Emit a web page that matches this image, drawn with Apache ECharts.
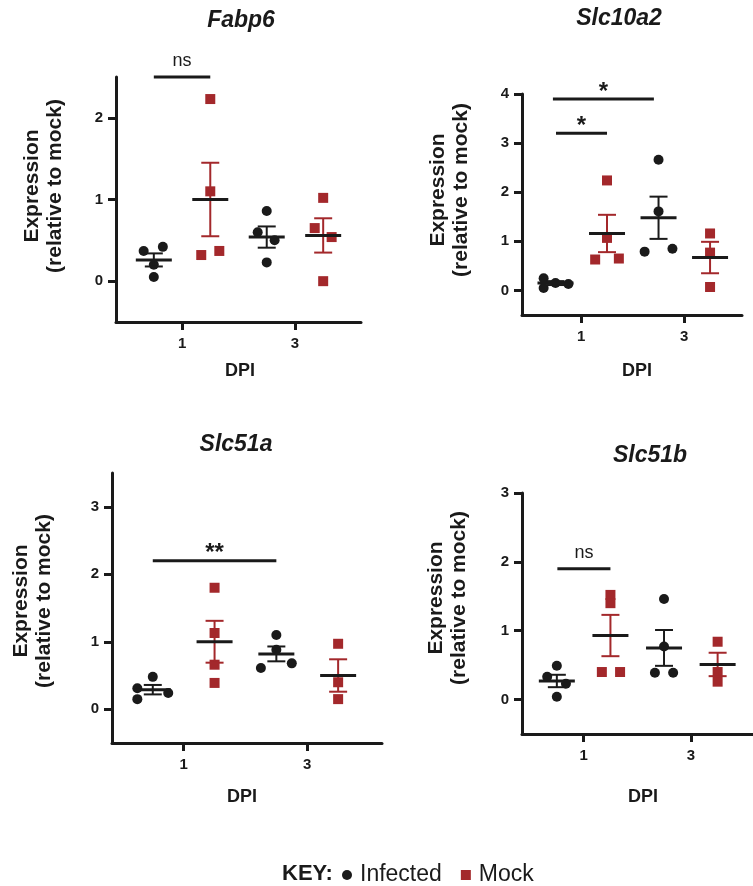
<!DOCTYPE html>
<html>
<head>
<meta charset="utf-8">
<script src="https://cdn.jsdelivr.net/npm/echarts@6/dist/echarts.min.js"></script>
<style>
html, body { margin: 0; padding: 0; background: #fff; }
#chart { width: 753px; height: 886px; }
</style>
</head>
<body>
<div id="chart"></div>
<script>
// groups on the x axis: 1 = Infected DPI1, 2 = Mock DPI1, 3 = Infected DPI3, 4 = Mock DPI3
var groupX = [1, 2, 3, 4];
var xTickValues = [1.5, 3.5];
var xTickLabels = ['1', '3'];

// Fabp6
var fabp6Infected = [[0.82, 0.37], [1.16, 0.42], [1.0, 0.2], [1.0, 0.05],
	[3.0, 0.86], [2.84, 0.6], [3.14, 0.5], [3.0, 0.23]];
var fabp6Mock = [[2.0, 2.23], [2.0, 1.1], [1.84, 0.32], [2.16, 0.37],
	[4.0, 1.02], [3.85, 0.65], [4.15, 0.54], [4.0, 0.0]];
var fabp6Mean = [0.26, 1.0, 0.54, 0.56];
var fabp6Sem = [0.08, 0.45, 0.13, 0.21];
var fabp6Sig = [[1.0, 2.0, 2.5]];
var fabp6SigText = ['ns'];
var fabp6YTicks = [0, 1, 2];

// Slc10a2
var slc10a2Infected = [[0.77, 0.25], [0.77, 0.05], [1.0, 0.15], [1.25, 0.13],
	[3.0, 2.66], [3.0, 1.61], [2.73, 0.79], [3.27, 0.85]];
var slc10a2Mock = [[2.0, 2.24], [2.0, 1.07], [1.77, 0.63], [2.23, 0.65],
	[4.0, 1.16], [4.0, 0.77], [4.0, 0.07]];
var slc10a2Mean = [0.15, 1.16, 1.48, 0.67];
var slc10a2Sem = [0.04, 0.38, 0.43, 0.32];
var slc10a2Sig = [[0.95, 2.91, 3.9], [1.01, 2.0, 3.2]];
var slc10a2SigText = ['*', '*'];
var slc10a2YTicks = [0, 1, 2, 3, 4];

// Slc51a
var slc51aInfected = [[1.0, 0.48], [0.75, 0.31], [1.25, 0.24], [0.75, 0.15],
	[3.0, 1.1], [3.0, 0.88], [2.75, 0.61], [3.25, 0.68]];
var slc51aMock = [[2.0, 1.8], [2.0, 1.13], [2.0, 0.66], [2.0, 0.39],
	[4.0, 0.97], [4.0, 0.4], [4.0, 0.15]];
var slc51aMean = [0.29, 1.0, 0.82, 0.5];
var slc51aSem = [0.07, 0.31, 0.11, 0.24];
var slc51aSig = [[1.0, 3.0, 2.2]];
var slc51aSigText = ['**'];
var slc51aYTicks = [0, 1, 2, 3];

// Slc51b
var slc51bInfected = [[1.0, 0.49], [0.82, 0.33], [1.17, 0.23], [1.0, 0.04],
	[3.0, 1.46], [3.0, 0.77], [2.83, 0.39], [3.17, 0.39]];
var slc51bMock = [[2.0, 1.52], [2.0, 1.4], [1.84, 0.4], [2.18, 0.4],
	[4.0, 0.84], [4.0, 0.4], [4.0, 0.26]];
var slc51bMean = [0.27, 0.93, 0.75, 0.51];
var slc51bSem = [0.09, 0.3, 0.26, 0.17];
var slc51bSig = [[1.01, 2.0, 1.9]];
var slc51bSigText = ['ns'];
var slc51bYTicks = [0, 1, 2, 3];

var BLACK = '#1a1a1a';
var RED = '#a3282b';
var FONT = '"Liberation Sans", Arial, sans-serif';

var panels = [
	{ title: 'Fabp6', inf: fabp6Infected, mock: fabp6Mock, mean: fabp6Mean, sem: fabp6Sem, sig: fabp6Sig, sigText: fabp6SigText, yTicks: fabp6YTicks,
		grid: { left: 116, top: 77, width: 245, height: 245 }, xMin: 0.33, xMax: 4.67, yMin: -0.5, yMax: 2.5,
		titlePos: [241, 21], yLabelPos: [44, 186], dpiPos: [240, 371] },
	{ title: 'Slc10a2', inf: slc10a2Infected, mock: slc10a2Mock, mean: slc10a2Mean, sem: slc10a2Sem, sig: slc10a2Sig, sigText: slc10a2SigText, yTicks: slc10a2YTicks,
		grid: { left: 522, top: 94, width: 220, height: 221 }, xMin: 0.35, xMax: 4.62, yMin: -0.5, yMax: 4,
		titlePos: [619, 19], yLabelPos: [450, 190], dpiPos: [637, 371] },
	{ title: 'Slc51a', inf: slc51aInfected, mock: slc51aMock, mean: slc51aMean, sem: slc51aSem, sig: slc51aSig, sigText: slc51aSigText, yTicks: slc51aYTicks,
		grid: { left: 112, top: 473, width: 270, height: 270 }, xMin: 0.34, xMax: 4.71, yMin: -0.5, yMax: 3.5,
		titlePos: [236, 445], yLabelPos: [33, 601], dpiPos: [242, 797] },
	{ title: 'Slc51b', inf: slc51bInfected, mock: slc51bMock, mean: slc51bMean, sem: slc51bSem, sig: slc51bSig, sigText: slc51bSigText, yTicks: slc51bYTicks,
		grid: { left: 522, top: 493, width: 240, height: 241 }, xMin: 0.35, xMax: 4.66, yMin: -0.5, yMax: 3,
		titlePos: [650, 456], yLabelPos: [448, 598], dpiPos: [643, 797] }
];

//均值 + 标准误
function renderMean(params, api) {
	var x = api.value(0), m = api.value(1), s = api.value(2), g = api.value(3);
	var c = api.coord([x, m]);
	var t = api.coord([x, m + s]);
	var b = api.coord([x, m - s]);
	var col = g % 2 ? RED : BLACK;
	return {
		type: 'group',
		children: [
			{ type: 'line', shape: { x1: c[0], y1: t[1], x2: c[0], y2: b[1] }, style: { stroke: col, lineWidth: 2 } },
			{ type: 'line', shape: { x1: c[0] - 9, y1: t[1], x2: c[0] + 9, y2: t[1] }, style: { stroke: col, lineWidth: 2 } },
			{ type: 'line', shape: { x1: c[0] - 9, y1: b[1], x2: c[0] + 9, y2: b[1] }, style: { stroke: col, lineWidth: 2 } },
			{ type: 'line', shape: { x1: c[0] - 18, y1: c[1], x2: c[0] + 18, y2: c[1] }, style: { stroke: BLACK, lineWidth: 3 } }
		]
	};
}

//显著性标注
function makeSigRender(texts) {
	return function(params, api) {
		var p1 = api.coord([api.value(0), api.value(2)]);
		var p2 = api.coord([api.value(1), api.value(2)]);
		var txt = texts[params.dataIndex];
		var star = txt.indexOf('*') >= 0;
		return {
			type: 'group',
			children: [
				{ type: 'line', shape: { x1: p1[0], y1: p1[1], x2: p2[0], y2: p2[1] }, style: { stroke: BLACK, lineWidth: 3 } },
				{ type: 'text', x: (p1[0] + p2[0]) / 2, y: p1[1] - (star ? 7 : 16),
					style: { text: txt, fill: BLACK, font: (star ? 'bold 24px ' : '18px ') + FONT, textAlign: 'center', textVerticalAlign: 'middle' } }
			]
		};
	};
}

var grids = [], xAxes = [], yAxes = [], series = [], graphics = [];
panels.forEach(function(p, i) {
	grids.push(p.grid);
	xAxes.push({
		type: 'value', gridIndex: i, min: p.xMin, max: p.xMax,
		axisLine: { onZero: false, lineStyle: { color: BLACK, width: 3 } },
		axisTick: { length: 8, lineStyle: { width: 3, color: BLACK }, customValues: xTickValues },
		axisLabel: {
			customValues: xTickValues, margin: 14, color: BLACK, fontSize: 15, fontWeight: 'bold', fontFamily: FONT,
			formatter: function(v) { return xTickLabels[xTickValues.indexOf(v)]; }
		},
		splitLine: { show: false }
	});
	yAxes.push({
		type: 'value', gridIndex: i, min: p.yMin, max: p.yMax,
		axisLine: { show: true, onZero: false, lineStyle: { color: BLACK, width: 3 } },
		axisTick: { show: true, length: 8, lineStyle: { width: 3, color: BLACK }, customValues: p.yTicks },
		axisLabel: { customValues: p.yTicks, margin: 13, color: BLACK, fontSize: 15, fontWeight: 'bold', fontFamily: FONT },
		splitLine: { show: false }
	});
	series.push({
		type: 'scatter', name: 'Infected', xAxisIndex: i, yAxisIndex: i, data: p.inf,
		symbol: 'circle', symbolSize: 10, itemStyle: { color: BLACK, opacity: 1 }, z: 2
	});
	series.push({
		type: 'scatter', name: 'Mock', xAxisIndex: i, yAxisIndex: i, data: p.mock,
		symbol: 'rect', symbolSize: 10, itemStyle: { color: RED, opacity: 1 }, z: 2
	});
	series.push({
		type: 'custom', xAxisIndex: i, yAxisIndex: i, renderItem: renderMean, z: 3,
		data: groupX.map(function(x, k) { return [x, p.mean[k], p.sem[k], k]; })
	});
	series.push({
		type: 'custom', xAxisIndex: i, yAxisIndex: i, renderItem: makeSigRender(p.sigText), z: 3,
		data: p.sig
	});
	graphics.push({
		type: 'text', x: p.titlePos[0], y: p.titlePos[1],
		style: { text: p.title, fill: BLACK, font: 'italic bold 23px ' + FONT, textAlign: 'center', textVerticalAlign: 'middle' }
	});
	graphics.push({
		type: 'text', x: p.yLabelPos[0], y: p.yLabelPos[1], rotation: Math.PI / 2,
		style: { text: 'Expression\n(relative to mock)', fill: BLACK, font: 'bold 21px ' + FONT, lineHeight: 23, textAlign: 'center', textVerticalAlign: 'middle' }
	});
	graphics.push({
		type: 'text', x: p.dpiPos[0], y: p.dpiPos[1],
		style: { text: 'DPI', fill: BLACK, font: 'bold 18px ' + FONT, textAlign: 'center', textVerticalAlign: 'middle' }
	});
});

graphics.push({
	type: 'text', x: 282, y: 874,
	style: { text: 'KEY:', fill: BLACK, font: 'bold 22px ' + FONT, textAlign: 'left', textVerticalAlign: 'middle' }
});

var myChart = echarts.init(document.getElementById('chart'));
myChart.setOption({
	animation: false,
	backgroundColor: '#fff',
	grid: grids,
	xAxis: xAxes,
	yAxis: yAxes,
	legend: {
		data: ['Infected', 'Mock'],
		left: 342, top: 863, padding: 0,
		itemWidth: 10, itemHeight: 10, itemGap: 19,
		textStyle: { color: BLACK, fontSize: 23, fontFamily: FONT, padding: [0, 0, 0, 3], lineHeight: 24 }
	},
	graphic: graphics,
	series: series
});
</script>
</body>
</html>
